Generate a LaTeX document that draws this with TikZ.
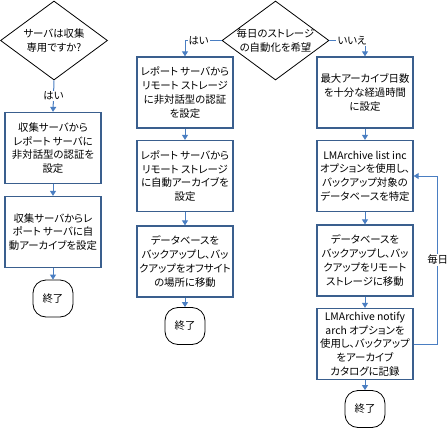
\documentclass[tikz,border=0pt]{standalone}
\usepackage{fontspec}
\setmainfont{Noto Sans CJK JP}[RawFeature=+palt]
\usetikzlibrary{shapes.geometric,arrows.meta}
\definecolor{boxblue}{RGB}{58,95,142}
\definecolor{lineblue}{RGB}{74,126,194}

\begin{document}
\begin{tikzpicture}[x=1pt,y=-1pt,
    font=\fontsize{10.4}{13.7}\selectfont,
    stepbox/.style={draw=boxblue, line width=1.3pt, minimum width=96pt, minimum height=71pt, inner sep=1pt, align=center},
    decision/.style={draw, diamond, line width=0.8pt, minimum width=107pt, minimum height=79pt, inner sep=0pt},
    endbox/.style={draw, line width=0.8pt, rounded corners=13pt, minimum width=40pt, minimum height=37pt},
    arr/.style={draw=lineblue, line width=1pt, -{Triangle[width=6pt,length=5pt]}},
    answer/.style={fill=white, inner sep=1pt}]
  \useasboundingbox (0,0) rectangle (448,429);

  % left column
  \node[decision, label={[align=center]center:{サーバは収集\\専用ですか?}}] (d1) at (54,40.5) {};
  \node[stepbox] (b11) at (53,148) {収集サーバから\\レポート サーバに\\非対話型の認証を\\設定};
  \node[stepbox] (b12) at (53,232) {収集サーバからレ\\ポート サーバに自\\動アーカイブを設定};
  \node[endbox] (t1) at (53,298.5) {終了};
  \draw[arr] (d1.south) -- node[answer] {はい} (b11.north);
  \draw[arr] (b11) -- (b12);
  \draw[arr] (b12) -- (t1);

  % middle column
  \node[decision, label={[align=center]center:{毎日のストレージ\\の自動化を希望}}] (d2) at (275.5,40.5) {};
  \node[stepbox] (b21) at (185,92.5) {レポート サーバから\\リモート ストレージ\\に非対話型の認証\\を設定};
  \node[stepbox] (b22) at (185,176) {レポート サーバから\\リモート ストレージ\\に自動アーカイブを\\設定};
  \node[stepbox] (b23) at (185,261.5) {データベースを\\バックアップし、バッ\\クアップをオフサイト\\の場所に移動};
  \node[endbox] (t2) at (185,326) {終了};
  \draw[arr] (d2.west) -| node[pos=0.5, anchor=west, xshift=2pt, answer] {はい} (b21.north);
  \draw[arr] (b21) -- (b22);
  \draw[arr] (b22) -- (b23);
  \draw[arr] (b23) -- (t2);

  % right column
  \node[stepbox] (b31) at (365,92.5) {最大アーカイブ日数\\を十分な経過時間\\に設定};
  \node[stepbox] (b32) at (365,176) {LMArchive list inc\\オプションを使用し、\\バックアップ対象の\\データベースを特定};
  \node[stepbox] (b33) at (365,260.5) {データベースを\\バックアップし、バッ\\クアップをリモート\\ストレージに移動};
  \node[stepbox] (b34) at (365,344) {LMArchive notify\\arch オプションを\\使用し、バックアップ\\をアーカイブ\\カタログに記録};
  \node[endbox] (t3) at (365,409) {終了};
  \draw[arr] (d2.east) -| node[pos=0.5, anchor=east, xshift=3pt, answer] {いいえ} (b31.north);
  \draw[arr] (b31) -- (b32);
  \draw[arr] (b32) -- (b33);
  \draw[arr] (b33) -- (b34);
  \draw[arr] (b34) -- (t3);
  \draw[arr] (b34.east) -- ++(24,0) |- node[pos=0.25, answer] {毎日} (b32.east);
\end{tikzpicture}
\end{document}
